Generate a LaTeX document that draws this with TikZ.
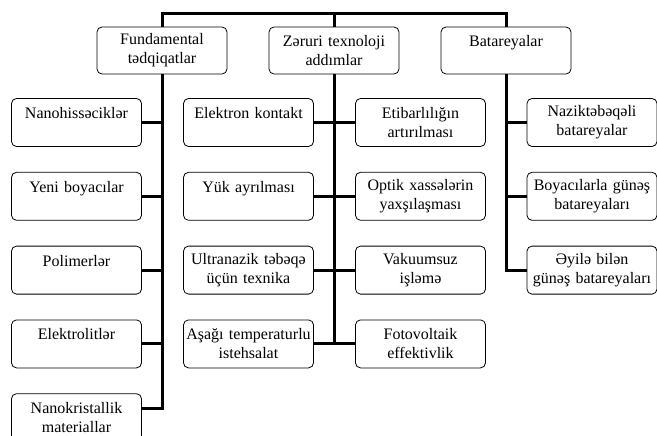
\documentclass[tikz,border=0pt]{standalone}
\usepackage{fontspec}
\setmainfont{Liberation Serif}
\newfontfamily\boxfont{Liberation Serif}
\usetikzlibrary{positioning}
\hyphenpenalty=10000

\begin{document}
\begin{tikzpicture}[x=1pt, y=-1pt, node distance=25pt,
    box/.style={rectangle, draw=black, line width=0.8pt, fill=white, text width=126pt, align=center, rounded corners=5pt, minimum height=48pt, inner sep=2pt, font=\boxfont\fontsize{16}{19}\selectfont},
    conn/.style={draw=black, line width=3pt}]
    \useasboundingbox (0,0) rectangle (657,436);

    % top row
    \node [box, minimum height=47pt] (fund) at (162,50.5) {Fundamental\\tədqiqatlar};
    \node [box, minimum height=47pt] (zeruri) at (334,50.5) {Zəruri texnoloji\\addımlar};
    \node [box, minimum height=47pt] (bat) at (506,50.5) {Batareyalar\\\mbox{}};
    \coordinate (top) at (334,14);

    % left column
    \node [box] (nanohis) at (76.5,122.5) {Nanohissəciklər\\\mbox{}};
    \node [box, below=of nanohis] (yeni) {Yeni boyacılar\\\mbox{}};
    \node [box, below=of yeni] (polimer) {Polimerlər\\\mbox{}};
    \node [box, below=of polimer] (elektrolit) {Elektrolitlər\\\mbox{}};
    \node [box, below=of elektrolit] (nanokrist) {Nanokristallik\\materiallar};

    % middle column
    \node [box] (elektron) at (248.5,122.5) {Elektron kontakt\\\mbox{}};
    \node [box, below=of elektron] (yuk) {Yük ayrılması\\\mbox{}};
    \node [box, below=of yuk] (ultra) {Ultranazik təbəqə\\üçün texnika};
    \node [box, below=of ultra] (asagi) {Aşağı temperaturlu\\istehsalat};
    \node [box] (etibar) at (420.5,122.5) {Etibarlılığın\\artırılması};
    \node [box, below=of etibar] (optik) {Optik xassələrin\\yaxşılaşması};
    \node [box, below=of optik] (vakuum) {Vakuumsuz\\işləmə};
    \node [box, below=of vakuum] (foto) {Fotovoltaik\\effektivlik};

    % right column
    \node [box] (nazik) at (592,122.5) {Naziktəbəqəli\\batareyalar};
    \node [box, below=of nazik] (boyaci) {Boyacılarla günəş\\batareyaları};
    \node [box, below=of boyaci] (eyile) {Əyilə bilən\\günəş batareyaları};

    % connectors
    \draw [conn] (fund.north) |- (top) -| (bat.north);
    \draw [conn] (zeruri.north) -- (top);

    \draw [conn] (fund.south) |- ([yshift=9pt]nanokrist.east);
    \draw [conn] (nanohis.east) -- (nanohis.east -| fund.south);
    \draw [conn] (yeni.east) -- (yeni.east -| fund.south);
    \draw [conn] (polimer.east) -- (polimer.east -| fund.south);
    \draw [conn] (elektrolit.east) -- (elektrolit.east -| fund.south);

    \draw [conn] (zeruri.south) |- (foto.west);
    \draw [conn] (asagi.east) -- (asagi.east -| zeruri.south);
    \draw [conn] (elektron.east) -- (etibar.west);
    \draw [conn] (yuk.east) -- (optik.west);
    \draw [conn] (ultra.east) -- (vakuum.west);

    \draw [conn] (bat.south) |- (eyile.west);
    \draw [conn] (nazik.west) -- (nazik.west -| bat.south);
    \draw [conn] (boyaci.west) -- (boyaci.west -| bat.south);
\end{tikzpicture}
\end{document}
